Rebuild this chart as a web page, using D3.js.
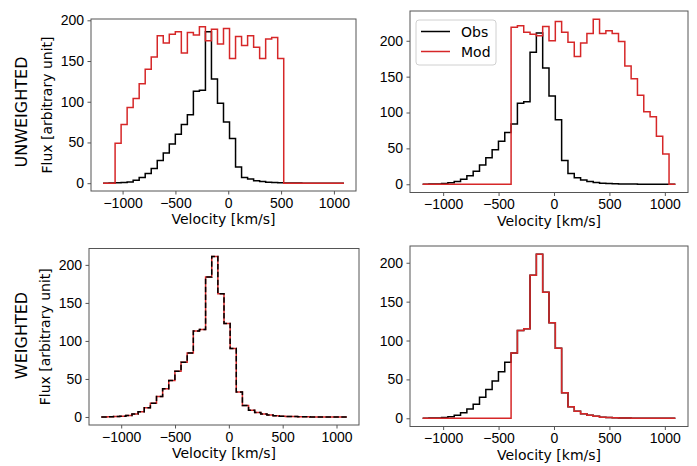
<!DOCTYPE html>
<html lang="en">
<head>
<meta charset="UTF-8">
<title>Unweighted vs weighted line profiles</title>
<script src="https://cdn.jsdelivr.net/npm/d3@7"></script>
<style>
  body { margin: 0; background: #fff; }
  svg { display: block; font-family: "DejaVu Sans", sans-serif; }
  .tick text { font-size: 14px; fill: #000; }
  .tick line { stroke: #555; }
  .frame { fill: none; stroke: #555; stroke-width: 1; }
</style>
</head>
<body>
<svg width="697" height="466"></svg>
<script>
// bin edges in km/s (41 edges -> 40 bins)
const velocity = [-1185, -1128, -1071, -1014, -957, -900, -843, -786, -729, -672,
  -615, -558, -501, -444, -387, -330, -273, -216, -159, -102,
  -45, 12, 69, 126, 183, 240, 297, 354, 411, 468,
  525, 582, 639, 696, 753, 810, 867, 924, 981, 1038, 1095];

// top left panel
const obsA = [0, 0.3, 0.5, 0.8, 1.6, 3.7, 7, 12, 18, 28,
  37, 48, 60, 72, 84, 113, 114, 186, 128, 98,
  75, 55, 20, 7, 5, 3, 2, 1.2, 0.8, 0.5,
  0.3, 0.2, 0.1, 0, 0, 0, 0, 0, 0, 0];
const modA = [0, 0, 49, 72, 93, 104, 122, 140, 155, 181,
  172, 183, 186, 160, 185, 182, 192, 175, 189, 171,
  190, 153, 180, 169, 181, 167, 153, 177, 179, 153,
  0, 0, 0, 0, 0, 0, 0, 0, 0, 0];

// observed profile used in the other three panels
const obsB = [0, 0.3, 0.5, 1, 2, 4, 7, 12, 18, 27,
  37, 48, 60, 72, 84, 113, 115, 184, 211, 162,
  123, 90, 33, 15, 9, 6, 4, 2.5, 1.5, 1,
  0.7, 0.5, 0.3, 0.2, 0.1, 0.1, 0, 0, 0, 0];
const modB = [0, 0, 0, 0, 0, 0, 0, 0, 0, 0,
  0, 0, 0, 0, 219, 221, 212, 209, 207, 220,
  200, 227, 212, 198, 178, 197, 210, 230, 210, 214,
  210, 199, 165, 147, 124, 101, 94, 67, 42, 0];

// weighted models
const modWeightedA = [0, 0.3, 0.5, 1, 2, 4, 7, 12, 18, 27,
  37, 48, 60, 72, 84, 113, 115, 184, 211, 162,
  123, 90, 33, 15, 9, 6, 4, 2.5, 1.5, 1,
  0.7, 0.5, 0.3, 0.2, 0.1, 0.1, 0, 0, 0, 0];
const modWeightedB = [0, 0, 0, 0, 0, 0, 0, 0, 0, 0,
  0, 0, 0, 0, 84, 113, 115, 184, 211, 162,
  123, 90, 33, 15, 9, 6, 4, 2.5, 1.5, 1,
  0.7, 0.5, 0.3, 0.2, 0.1, 0.1, 0, 0, 0, 0];

const xTicks = [-1000, -500, 0, 500, 1000];
const yTicks = [0, 50, 100, 150, 200];
const seriesNames = ["Obs", "Mod"];

const BLACK = "#000000";
const RED = "#d62728";

const svg = d3.select("svg");

// series are drawn in list order; legend keeps Obs first
const panels = [
  { left: 91, top: 19, right: 356, bottom: 191,
    series: [{ name: "Obs", values: obsA, color: BLACK }, { name: "Mod", values: modA, color: RED }],
    ylabel: true, row: "UNWEIGHTED", rowY: 112 },
  { left: 410, top: 11, right: 688, bottom: 192.5,
    series: [{ name: "Obs", values: obsB, color: BLACK }, { name: "Mod", values: modB, color: RED }],
    legend: true },
  { left: 89, top: 248.5, right: 359, bottom: 425,
    series: [{ name: "Mod", values: modWeightedA, color: RED }, { name: "Obs", values: obsB, color: BLACK, dash: "5.5,2.4" }],
    ylabel: true, row: "WEIGHTED", rowY: 335.5 },
  { left: 410, top: 246, right: 688, bottom: 426.5,
    series: [{ name: "Obs", values: obsB, color: BLACK }, { name: "Mod", values: modWeightedB, color: RED }] }
];

const fmt = d => d < 0 ? "\u2212" + Math.abs(d) : String(d);

function stepPoints(values) {
  const pts = values.map((v, i) => [velocity[i], v]);
  pts.push([velocity[velocity.length - 1], values[values.length - 1]]);
  return pts;
}

panels.forEach(p => {
  const xMin = d3.min(velocity), xMax = d3.max(velocity);
  const xPad = (xMax - xMin) * 0.05;
  const x = d3.scaleLinear().domain([xMin - xPad, xMax + xPad]).range([p.left, p.right]);

  const yMax = d3.max(p.series, s => d3.max(s.values));
  const y = d3.scaleLinear().domain([-0.05 * yMax, 1.05 * yMax]).range([p.bottom, p.top]);

  const g = svg.append("g");

  const line = d3.line()
    .x(d => x(d[0]))
    .y(d => y(d[1]))
    .curve(d3.curveStepAfter);

  p.series.forEach(s => {
    g.append("path")
      .datum(stepPoints(s.values))
      .attr("d", line)
      .attr("fill", "none")
      .attr("stroke", s.color)
      .attr("stroke-width", 1.5)
      .attr("stroke-dasharray", s.dash || null);
  });

  g.append("rect").attr("class", "frame")
    .attr("x", p.left).attr("y", p.top)
    .attr("width", p.right - p.left).attr("height", p.bottom - p.top);

  const xAxis = g.append("g")
    .attr("transform", `translate(0,${p.bottom})`)
    .call(d3.axisBottom(x).tickValues(xTicks).tickFormat(fmt).tickSize(3.5).tickPadding(3.5));
  xAxis.select(".domain").remove();

  const yAxis = g.append("g")
    .attr("transform", `translate(${p.left},0)`)
    .call(d3.axisLeft(y).tickValues(yTicks).tickFormat(fmt).tickSize(3.5).tickPadding(3.5));
  yAxis.select(".domain").remove();
  g.selectAll(".tick text").attr("font-family", null).attr("font-size", null);

  g.append("text")
    .attr("x", (p.left + p.right) / 2)
    .attr("y", p.bottom + 33)
    .attr("text-anchor", "middle")
    .attr("font-size", 14)
    .text("Velocity [km/s]");

  if (p.ylabel) {
    const cy = (p.top + p.bottom) / 2;
    g.append("text")
      .attr("transform", `translate(${p.left - 39},${cy}) rotate(-90)`)
      .attr("text-anchor", "middle")
      .attr("font-size", 14)
      .text("Flux [arbitrary unit]");
    g.append("text")
      .attr("transform", `translate(26.5,${p.rowY}) rotate(-90)`)
      .attr("text-anchor", "middle")
      .attr("font-size", 16)
      .text(p.row);
  }

  if (p.legend) {
    const lg = g.append("g").attr("transform", `translate(${p.left + 6},${p.top + 9})`);
    lg.append("rect")
      .attr("width", 80).attr("height", 45).attr("rx", 3)
      .attr("fill", "#fff").attr("fill-opacity", 0.8)
      .attr("stroke", "#d0d0d0");
    seriesNames.forEach((name, i) => {
      const s = p.series.find(d => d.name === name);
      const ly = 11.5 + i * 20;
      lg.append("line")
        .attr("x1", 5).attr("x2", 34).attr("y1", ly).attr("y2", ly)
        .attr("stroke", s.color).attr("stroke-width", 1.5);
      lg.append("text")
        .attr("x", 45).attr("y", ly).attr("dy", "0.36em")
        .attr("font-size", 14)
        .text(name);
    });
  }
});
</script>
</body>
</html>
